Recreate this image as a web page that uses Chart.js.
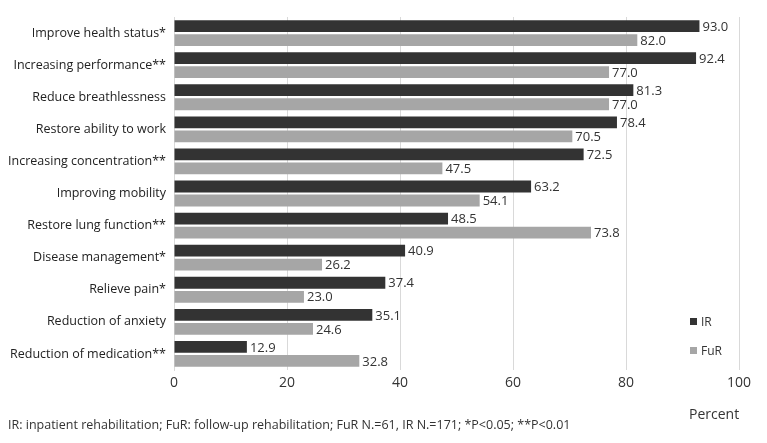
<!DOCTYPE html>
<html>
<head>
<meta charset="utf-8">
<script src="https://cdn.jsdelivr.net/npm/chart.js@4"></script>
<style>
  body{margin:0;background:#fff;font-family:"Open Sans",sans-serif;}
  #wrap{position:relative;width:767px;height:443px;}
  #chart{position:absolute;left:0;top:0;}
  .lg{position:absolute;font-size:12px;color:#333;display:flex;align-items:center;}
  .lg span{display:inline-block;width:7px;height:7px;margin-right:4px;}
  #xTitle{position:absolute;left:689px;top:404px;font-size:14px;color:#333;}
  #note{position:absolute;left:8px;top:416px;font-size:12.5px;color:#333;}
</style>
</head>
<body>
<div id="wrap">
  <canvas id="chart" width="767" height="443"></canvas>
  <div class="lg" style="left:690px;top:313px"><span style="background:#333333"></span>IR</div>
  <div class="lg" style="left:690px;top:342px"><span style="background:#a6a6a6"></span>FuR</div>
  <div id="xTitle">Percent</div>
  <div id="note">IR: inpatient rehabilitation; FuR: follow-up rehabilitation; FuR N.=61, IR N.=171; *P&lt;0.05; **P&lt;0.01</div>
</div>
<script>
const CATEGORIES = [
  "Improve health status*",
  "Increasing performance**",
  "Reduce breathlessness",
  "Restore ability to work",
  "Increasing concentration**",
  "Improving mobility",
  "Restore lung function**",
  "Disease management*",
  "Relieve pain*",
  "Reduction of anxiety",
  "Reduction of medication**"
];
const IR_VALUES  = [93.0, 92.4, 81.3, 78.4, 72.5, 63.2, 48.5, 40.9, 37.4, 35.1, 12.9];
const FUR_VALUES = [82.0, 77.0, 77.0, 70.5, 47.5, 54.1, 73.8, 26.2, 23.0, 24.6, 32.8];
const X_TICKS = [0, 20, 40, 60, 80, 100];

// value labels at bar ends
const valueLabels = {
  id: "valueLabels",
  afterDatasetsDraw(chart){
    const ctx = chart.ctx;
    ctx.save();
    ctx.font = "13px 'Open Sans', sans-serif";
    ctx.fillStyle = "#333";
    ctx.textBaseline = "middle";
    ctx.textAlign = "left";
    chart.data.datasets.forEach((ds, i) => {
      chart.getDatasetMeta(i).data.forEach((bar, j) => {
        ctx.fillText(ds.data[j].toFixed(1), bar.x + 3, bar.y + 1);
      });
    });
    ctx.restore();
  }
};

new Chart(document.getElementById("chart"), {
  type: "bar",
  data: {
    labels: CATEGORIES,
    datasets: [
      { label: "IR", data: IR_VALUES, backgroundColor: "#333333" },
      { label: "FuR", data: FUR_VALUES, backgroundColor: "#a6a6a6" }
    ]
  },
  options: {
    indexAxis: "y",
    responsive: false,
    animation: false,
    datasets: { bar: { categoryPercentage: 0.875, barPercentage: 0.84 } },
    layout: { padding: { left: 0, right: 28, top: 17, bottom: 0 } },
    plugins: { legend: { display: false }, tooltip: { enabled: false } },
    scales: {
      x: {
        min: 0, max: 100,
        afterBuildTicks(scale){ scale.ticks = X_TICKS.map(v => ({ value: v })); },
        afterFit(scale){ scale.height = 73; },
        grid: { color: "#d9d9d9", drawTicks: false },
        border: { display: false },
        ticks: { color: "#333", font: { family: "Open Sans", size: 14 }, padding: 5 }
      },
      y: {
        afterFit(scale){ scale.width = 174; },
        grid: { display: false, drawTicks: false },
        border: { color: "#d9d9d9" },
        ticks: { color: "#222", font: { family: "Open Sans", size: 12.5 }, padding: 8 }
      }
    }
  },
  plugins: [valueLabels]
});
</script>
</body>
</html>
